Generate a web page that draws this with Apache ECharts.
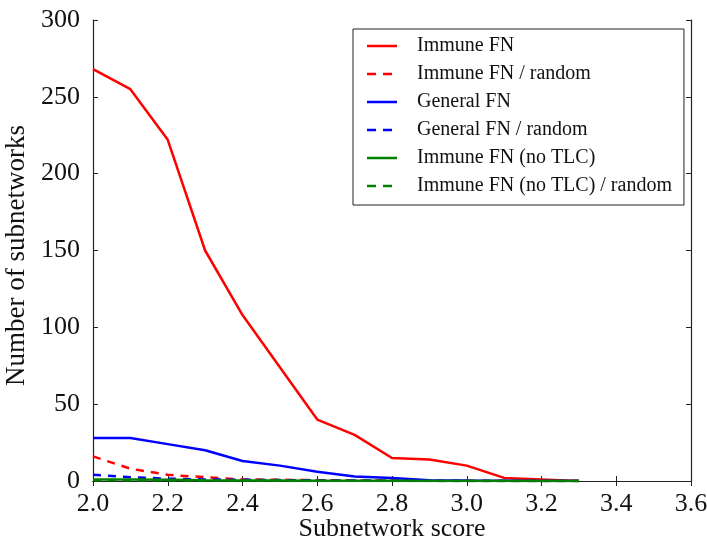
<!DOCTYPE html>
<html>
<head>
<meta charset="utf-8">
<script src="https://cdn.jsdelivr.net/npm/echarts@6/dist/echarts.min.js"></script>
<style>html,body{margin:0;padding:0;background:#fff;}#chart{width:707px;height:541px;}</style>
</head>
<body>
<div id="chart"></div>
<script>
const scores = [2.0, 2.1, 2.2, 2.3, 2.4, 2.5, 2.6, 2.7, 2.8, 2.9, 3.0, 3.1, 3.2, 3.3];
const immuneFN =        [268, 255, 222, 150, 108, 74, 40, 30, 15, 14, 10, 2, 1, 0];
const immuneFNRandom =  [16, 8, 4, 2.5, 1, 0.8, 0.5, 0.4, 0.3, 0.2, 0.1, 0, 0, 0];
const generalFN =       [28, 28, 24, 20, 13, 10, 6, 3, 2, 0.5, 0.3, 0.2, 0, 0];
const generalFNRandom = [4, 2.5, 1.5, 1, 0.8, 0.6, 0.4, 0.3, 0.2, 0.1, 0, 0, 0, 0];
const immuneNoTLC =     [1, 1, 0.8, 0.5, 0.4, 0.3, 0.2, 0.1, 0.1, 0, 0, 0, 0, 0];
const immuneNoTLCRandom=[0.5, 0.4, 0.3, 0.2, 0.1, 0.1, 0, 0, 0, 0, 0, 0, 0, 0];
const seriesNames = ['Immune FN', 'Immune FN / random', 'General FN', 'General FN / random', 'Immune FN (no TLC)', 'Immune FN (no TLC) / random'];

const pair = arr => scores.map((s, i) => [s, arr[i]]);
const font = 'Liberation Serif';
const axisCol = '#222';

// legend icons: thin line centred in a 30x14 box (corner specks fix the bounding box)
const box = ' M0,0 H0.01 V0.01 H0 Z M29.99,13.99 H30 V14 H29.99 Z';
const solidIcon = 'path://M0,5.75 H30 V8.25 H0 Z' + box;
const dashIcon = 'path://M0,5.75 H9 V8.25 H0 Z M16,5.75 H25 V8.25 H16 Z' + box;

function mk(name, arr, color, type) {
  return {
    name, type: 'line', data: pair(arr), symbol: 'none', showSymbol: false,
    lineStyle: { color, width: 2.5, type: type },
    itemStyle: { color },
    animation: false
  };
}

const chart = echarts.init(document.getElementById('chart'), null, { renderer: 'canvas' });
chart.setOption({
  animation: false,
  backgroundColor: '#fff',
  grid: { left: 93, top: 20, right: 16, bottom: 60, outerBoundsMode: 'none', containLabel: false },
  legend: {
    orient: 'vertical', left: 353, top: 29,
    data: seriesNames.map((n, i) => ({ name: n, icon: i % 2 === 0 ? solidIcon : dashIcon })),
    itemWidth: 30, itemHeight: 14, itemGap: 8,
    borderColor: '#222', borderWidth: 1, padding: [7, 12, 9, 14],
    textStyle: { fontFamily: font, fontSize: 20, color: '#111', padding: [0, 0, 0, 15] },
    backgroundColor: '#fff'
  },
  xAxis: [{
    type: 'value', min: 2.0, max: 3.6, interval: 0.2,
    name: 'Subnetwork score', nameLocation: 'middle', nameGap: 35, nameMoveOverlap: false,
    nameTextStyle: { fontFamily: font, fontSize: 26, color: '#111' },
    axisLine: { show: true, lineStyle: { color: axisCol, width: 1.2 } },
    axisTick: { show: true, inside: true, length: 5, lineStyle: { color: axisCol } },
    axisLabel: { fontFamily: font, fontSize: 26, color: '#111', margin: 10, formatter: v => v.toFixed(1) },
    splitLine: { show: false }
  }, {
    type: 'value', position: 'top', min: 2.0, max: 3.6, interval: 0.2,
    axisLine: { show: true, lineStyle: { color: axisCol, width: 1.2 } },
    axisTick: { show: true, inside: true, length: 5, lineStyle: { color: axisCol } },
    axisLabel: { show: false }, splitLine: { show: false }
  }],
  yAxis: [{
    type: 'value', min: 0, max: 300, interval: 50,
    name: 'Number of subnetworks', nameLocation: 'middle', nameGap: 55,
    nameTextStyle: { fontFamily: font, fontSize: 27, color: '#111', padding: [0, 10, 0, 0] },
    axisLine: { show: true, lineStyle: { color: axisCol, width: 1.2 } },
    axisTick: { show: true, inside: true, length: 5, lineStyle: { color: axisCol } },
    axisLabel: { fontFamily: font, fontSize: 26, color: '#111', margin: 13 },
    splitLine: { show: false }
  }, {
    type: 'value', position: 'right', min: 0, max: 300, interval: 50,
    axisLine: { show: true, lineStyle: { color: axisCol, width: 1.2 } },
    axisTick: { show: true, inside: true, length: 5, lineStyle: { color: axisCol } },
    axisLabel: { show: false }, splitLine: { show: false }
  }],
  series: [
    mk(seriesNames[0], immuneFN, '#ff0000', 'solid'),
    mk(seriesNames[1], immuneFNRandom, '#ff0000', [8, 7]),
    mk(seriesNames[2], generalFN, '#0000ff', 'solid'),
    mk(seriesNames[3], generalFNRandom, '#0000ff', [8, 7]),
    mk(seriesNames[4], immuneNoTLC, '#008000', 'solid'),
    mk(seriesNames[5], immuneNoTLCRandom, '#008000', [8, 7])
  ]
});
</script>
</body>
</html>
